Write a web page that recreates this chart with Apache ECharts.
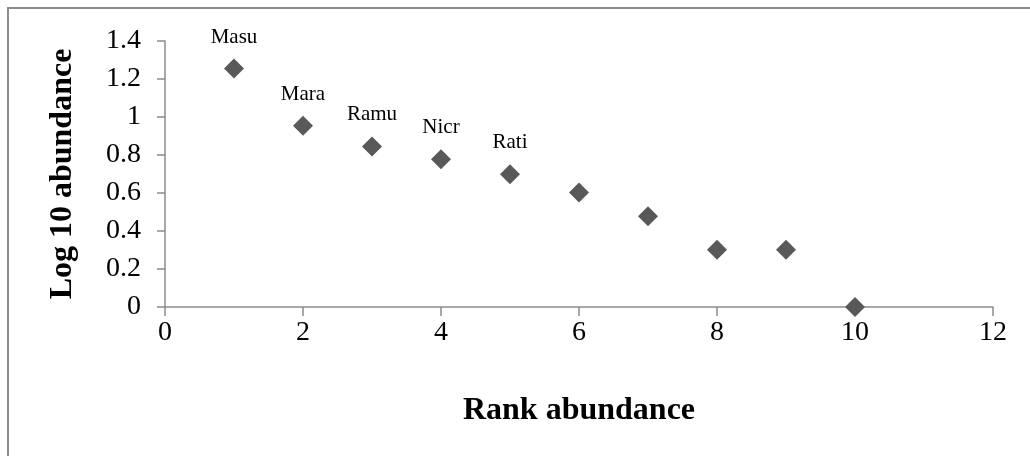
<!DOCTYPE html>
<html>
<head>
<meta charset="utf-8">
<script src="https://cdn.jsdelivr.net/npm/echarts@6/dist/echarts.min.js"></script>
<style>
html,body{margin:0;padding:0;background:#fff;}
#chart{width:1030px;height:456px;}
</style>
</head>
<body>
<div id="chart"></div>
<script>
const ranks = [1, 2, 3, 4, 5, 6, 7, 8, 9, 10];
const logAbundance = [1.255, 0.954, 0.845, 0.778, 0.699, 0.602, 0.477, 0.301, 0.301, 0];
const speciesLabels = ['Masu', 'Mara', 'Ramu', 'Nicr', 'Rati', '', '', '', '', ''];
const xTicks = [0, 2, 4, 6, 8, 10, 12];
const yTicks = [0, 0.2, 0.4, 0.6, 0.8, 1, 1.2, 1.4];

const serif = '"Liberation Serif", "Times New Roman", serif';
const axisGray = '#8c8c8c';

const points = ranks.map((r, i) => ({ value: [r, logAbundance[i]], name: speciesLabels[i] }));

const chart = echarts.init(document.getElementById('chart'));
chart.setOption({
  animation: false,
  backgroundColor: '#fff',
  graphic: [{
    type: 'rect',
    shape: { x: 8, y: 8, width: 1100, height: 500 },
    style: { fill: 'none', stroke: axisGray, lineWidth: 2 },
    silent: true
  }],
  grid: { left: 165, right: 37, top: 41, bottom: 149 },
  xAxis: {
    type: 'value',
    min: xTicks[0],
    max: xTicks[xTicks.length - 1],
    interval: 2,
    name: 'Rank abundance',
    nameLocation: 'middle',
    nameGap: 88,
    nameTextStyle: { fontFamily: serif, fontWeight: 'bold', fontSize: 32, color: '#000', verticalAlign: 'top' },
    axisLine: { show: true, onZero: false, lineStyle: { color: axisGray, width: 1.5 } },
    axisTick: { show: true, length: 9, lineStyle: { color: axisGray, width: 1.5 } },
    axisLabel: { fontFamily: serif, fontSize: 28, color: '#000', margin: 12 },
    splitLine: { show: false }
  },
  yAxis: {
    type: 'value',
    min: yTicks[0],
    max: yTicks[yTicks.length - 1],
    interval: 0.2,
    name: 'Log 10 abundance',
    nameLocation: 'middle',
    nameGap: 86,
    nameTextStyle: { fontFamily: serif, fontWeight: 'bold', fontSize: 32, color: '#000' },
    axisLine: { show: true, lineStyle: { color: axisGray, width: 1.5 } },
    axisTick: { show: true, length: 8, lineStyle: { color: axisGray, width: 1.5 } },
    axisLabel: { fontFamily: serif, fontSize: 28, color: '#000', margin: 24 },
    splitLine: { show: false }
  },
  series: [{
    type: 'scatter',
    symbol: 'diamond',
    symbolSize: [20, 20],
    itemStyle: { color: '#595959', opacity: 1 },
    data: points,
    label: {
      show: true,
      position: 'top',
      distance: 11,
      formatter: p => p.name,
      fontFamily: serif,
      fontSize: 21,
      color: '#000'
    }
  }]
});
</script>
</body>
</html>
